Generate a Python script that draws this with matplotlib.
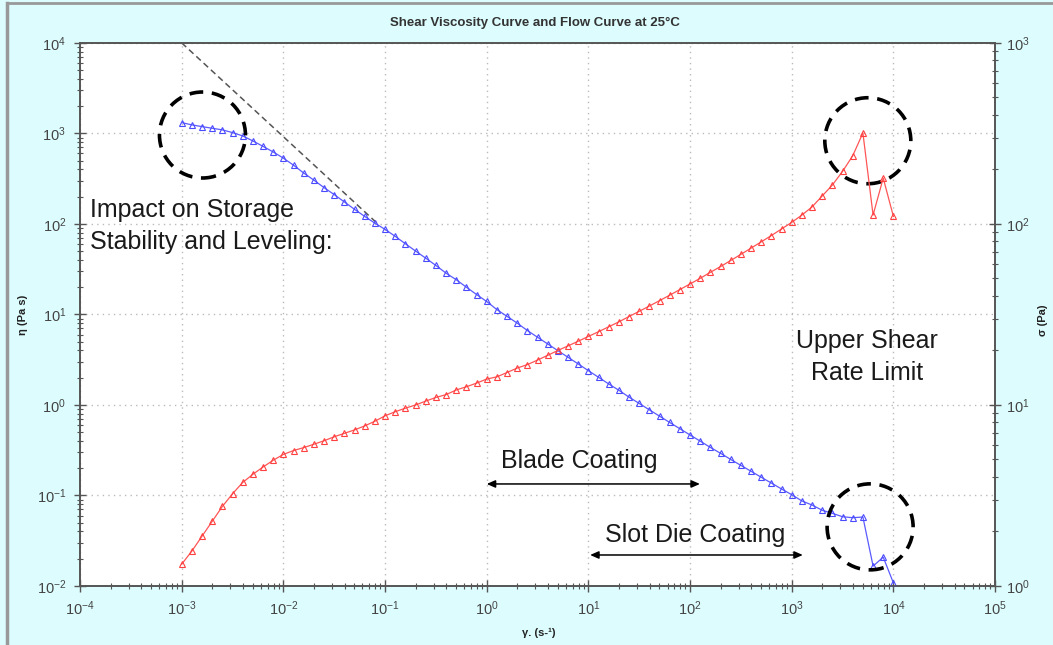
import matplotlib.pyplot as plt
from matplotlib.patches import Circle
from matplotlib.lines import Line2D
from matplotlib.transforms import ScaledTranslation
from matplotlib.ticker import LogLocator, NullFormatter

plt.rcParams['font.family'] = ['Liberation Sans', 'DejaVu Sans']
plt.rcParams['mathtext.default'] = 'regular'

# shear rate (1/s), 10 points per decade as logged by the rheometer
shear_rate = [
    0.001, 0.00126, 0.00158, 0.002, 0.00251, 0.00316, 0.00398, 0.00501, 0.00631, 0.00794,
    0.01, 0.0126, 0.0158, 0.02, 0.0251, 0.0316, 0.0398, 0.0501, 0.0631, 0.0794,
    0.1, 0.126, 0.158, 0.2, 0.251, 0.316, 0.398, 0.501, 0.631, 0.794,
    1.0, 1.26, 1.58, 2.0, 2.51, 3.16, 3.98, 5.01, 6.31, 7.94,
    10.0, 12.6, 15.8, 20.0, 25.1, 31.6, 39.8, 50.1, 63.1, 79.4,
    100.0, 126.0, 158.0, 200.0, 251.0, 316.0, 398.0, 501.0, 631.0, 794.0,
    1000.0, 1260.0, 1580.0, 2000.0, 2510.0, 3160.0, 3980.0, 5010.0, 6310.0, 7940.0,
    10000.0,
]

# viscosity eta (Pa s), left axis
viscosity = [
    1315, 1242, 1189, 1140, 1094, 1021, 938, 826, 719, 624,
    533, 445, 366, 304, 252, 211, 175, 145, 121, 102,
    87.1, 72.9, 60.5, 50.1, 41.9, 34.8, 28.6, 24.2, 20.0, 16.6,
    13.9, 11.3, 9.55, 8.00, 6.64, 5.60, 4.72, 3.98, 3.36, 2.84,
    2.39, 2.02, 1.71, 1.45, 1.22, 1.04, 0.883, 0.752, 0.640, 0.546,
    0.466, 0.398, 0.340, 0.292, 0.250, 0.215, 0.185, 0.159, 0.137, 0.118,
    0.102, 0.0869, 0.0785, 0.0685, 0.0635, 0.0582, 0.0568, 0.0578, 0.0166, 0.0208,
    0.0108,
]

# shear stress sigma (Pa), right axis
stress = [
    1.32, 1.56, 1.88, 2.28, 2.75, 3.23, 3.73, 4.14, 4.54, 4.95,
    5.33, 5.60, 5.81, 6.07, 6.34, 6.67, 6.97, 7.28, 7.66, 8.13,
    8.71, 9.18, 9.59, 10.0, 10.5, 11.0, 11.4, 12.1, 12.6, 13.2,
    13.9, 14.3, 15.1, 16.0, 16.7, 17.7, 18.8, 20.0, 21.2, 22.5,
    23.9, 25.4, 27.0, 28.8, 30.8, 32.9, 35.2, 37.7, 40.4, 43.4,
    46.6, 50.1, 54.0, 58.2, 62.8, 67.9, 73.5, 79.6, 86.3, 93.8,
    102, 112, 124, 143, 164, 195, 238, 318, 112, 179,
    110,
]

# power-law guide line (slope ~ -1)
guide_x = [1e-3, 0.085]
guide_y = [1e4, 100]

x_ticks = [1e-4, 1e-3, 1e-2, 1e-1, 1e0, 1e1, 1e2, 1e3, 1e4, 1e5]
x_labels = ['$10^{-4}$', '$10^{-3}$', '$10^{-2}$', '$10^{-1}$', '$10^{0}$',
            '$10^{1}$', '$10^{2}$', '$10^{3}$', '$10^{4}$', '$10^{5}$']
eta_ticks = [1e-2, 1e-1, 1e0, 1e1, 1e2, 1e3, 1e4]
eta_labels = ['$10^{-2}$', '$10^{-1}$', '$10^{0}$', '$10^{1}$', '$10^{2}$',
              '$10^{3}$', '$10^{4}$']
sigma_ticks = [1e0, 1e1, 1e2, 1e3]
sigma_labels = ['$10^{0}$', '$10^{1}$', '$10^{2}$', '$10^{3}$']

# highlighted regions (data coords of circle centres)
circle_centres = [(1.6e-3, 960), (5.6e3, 830), (5.9e3, 0.045)]

bg = '#dcfcfd'
spine_col = '#555555'
tick_col = '#444444'

fig = plt.figure(figsize=(10.53, 6.45), dpi=100, facecolor=bg)
ax = fig.add_axes([0.076, 0.0915, 0.869, 0.842])
ax.set_facecolor('white')
ax2 = ax.twinx()

ax.set_xscale('log')
ax.set_yscale('log')
ax2.set_yscale('log')
ax.set_xlim(1e-4, 1e5)
ax.set_ylim(1e-2, 1e4)
ax2.set_ylim(1, 1e3)

ax.grid(True, which='major', color='#bbbbbb', linestyle=(0, (1, 3)), linewidth=1.0)

ax2.plot(shear_rate, stress, color='#ff5555', lw=0.9, marker='^', ms=5,
         mfc='none', mec='#ff4040', mew=0.8)
ax.plot(shear_rate, viscosity, color='#5a5aff', lw=0.9, marker='^', ms=5,
        mfc='none', mec='#4a4aff', mew=0.8, zorder=3)
ax.plot(guide_x, guide_y, color='#555555', lw=1.1, linestyle=(0, (4, 2.5)), zorder=2)

for a in (ax, ax2):
    for s in a.spines.values():
        s.set_color(spine_col)
        s.set_linewidth(1.2)

ax.set_xticks(x_ticks, labels=x_labels)
ax.set_yticks(eta_ticks, labels=eta_labels)
ax2.set_yticks(sigma_ticks, labels=sigma_labels)
for a in (ax, ax2):
    a.yaxis.set_minor_locator(LogLocator(base=10, subs=range(2, 10), numticks=50))
    a.yaxis.set_minor_formatter(NullFormatter())
ax.xaxis.set_minor_locator(LogLocator(base=10, subs=range(2, 10), numticks=50))
ax.xaxis.set_minor_formatter(NullFormatter())

ax.tick_params(which='major', direction='inout', length=8, width=1.0, color=spine_col,
               labelsize=10.5, labelcolor=tick_col, pad=6)
ax.tick_params(which='minor', direction='inout', length=4, width=0.8, color=spine_col)
ax2.tick_params(which='major', direction='inout', length=8, width=1.0, color=spine_col,
                labelsize=10.5, labelcolor=tick_col, pad=4)
ax2.tick_params(which='minor', direction='inout', length=4, width=0.8, color=spine_col)

ax.set_xlabel('γ. (s-¹)', fontsize=8, fontweight='bold', color='#222222')
ax.xaxis.set_label_coords(0.501, -0.077)
ax.set_ylabel('η (Pa s)', fontsize=8, fontweight='bold', color='#222222')
ax.yaxis.set_label_coords(-0.057, 0.5)
ax2.set_ylabel('σ (Pa)', fontsize=8, fontweight='bold', color='#222222', rotation=90)
ax2.yaxis.set_label_coords(1.047, 0.49)

fig.text(0.508, 0.964, 'Shear Viscosity Curve and Flow Curve at 25°C', ha='center',
         va='center', fontsize=9.5, fontweight='bold', color='#333333')

# dashed circles, fixed pixel radius, anchored at data points
for cx, cy in circle_centres:
    c = Circle((0, 0), radius=0.43, fill=False, edgecolor='black', lw=2.6,
               linestyle=(0, (3.8, 2.4)),
               transform=fig.dpi_scale_trans + ScaledTranslation(cx, cy, ax.transData),
               zorder=5)
    ax.add_artist(c)

txt_col = '#1a1a1a'
ax.text(1.26e-4, 95, 'Impact on Storage\nStability and Leveling:', fontsize=18,
        color=txt_col, ha='left', va='center', linespacing=1.4)
ax.text(5.5e3, 3.39, 'Upper Shear\nRate Limit', fontsize=18, color=txt_col,
        ha='center', va='center', linespacing=1.4)
ax.text(8.2, 0.24, 'Blade Coating', fontsize=18, color=txt_col, ha='center', va='center')
ax.text(111, 0.0366, 'Slot Die Coating', fontsize=18, color=txt_col, ha='center', va='center')

arrow = dict(arrowstyle='<|-|>,head_length=0.5,head_width=0.22', color='black', lw=1.1,
             shrinkA=0, shrinkB=0)
ax.annotate('', xy=(1.0, 0.134), xytext=(125, 0.134), arrowprops=arrow)
ax.annotate('', xy=(10.4, 0.022), xytext=(1285, 0.022), arrowprops=arrow)

# screenshot frame edges
fig.add_artist(Line2D([0.0066, 0.0066], [0, 0.995], color='#999999', lw=2.5,
                      transform=fig.transFigure))
fig.add_artist(Line2D([0.0066, 1], [0.995, 0.995], color='#999999', lw=2,
                      transform=fig.transFigure))

fig.savefig('out.png', dpi=100, facecolor=bg)
